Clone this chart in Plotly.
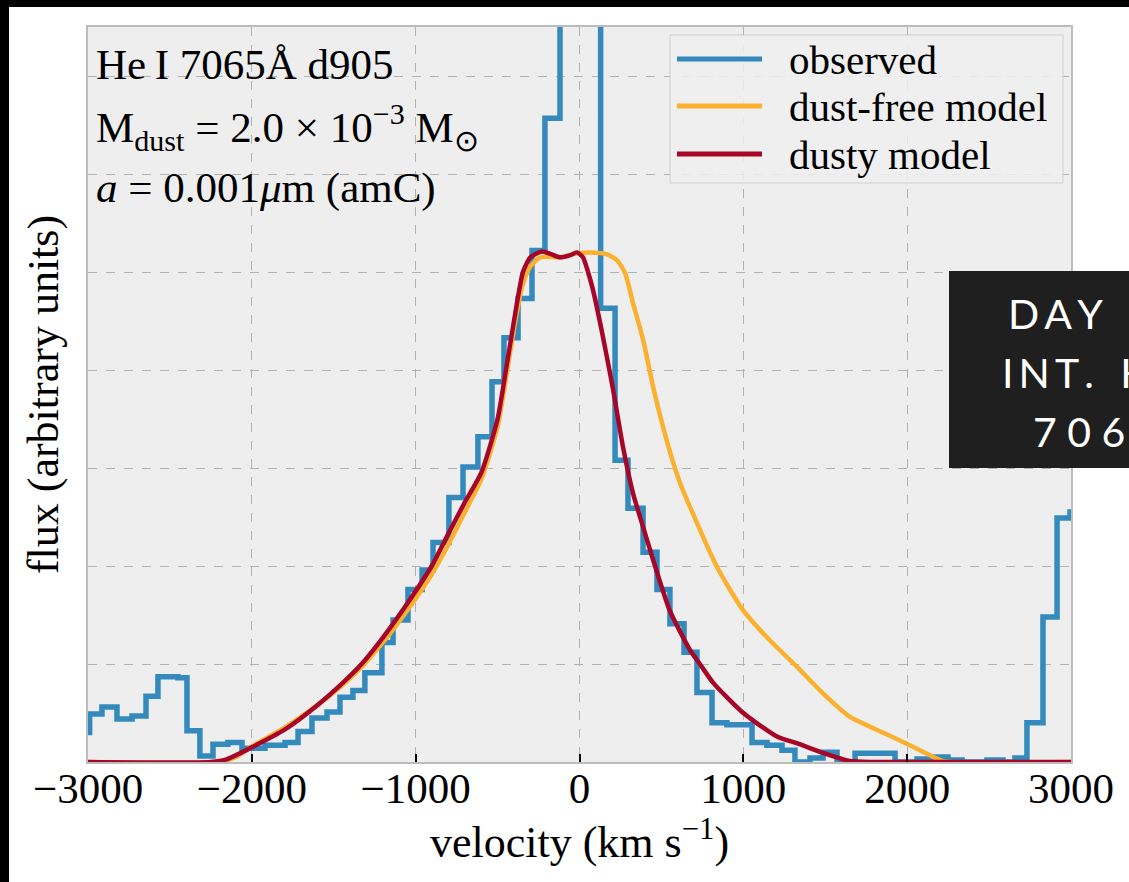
import plotly.graph_objects as go

# ---------------- data ----------------
obs_v = [-3000, -2990, -2915, -2823, -2731, -2646, -2573, -2451, -2396, -2317, -2237, -2146,
         -2060, -1999, -1920, -1797, -1718, -1633, -1541, -1462, -1383, -1310, -1206, -1138,
         -1047, -961, -894, -797, -711, -620, -534, -461, -375, -290, -211, -119,
         129, 217, 296, 388, 473, 552, 638, 717, 809, 900, 1053, 1144, 1236, 1315, 1407,
         1486, 1572, 1682, 1926, 2060, 2158, 2249, 2335, 2487, 2585, 2658, 2731, 2829,
         2915, 2994, 3000]
obs_f = [0.30, 0.49, 0.56, 0.44, 0.47, 0.67, 0.87, 0.86, 0.32, 0.06, 0.18, 0.20,
         0.14, 0.14, 0.17, 0.20, 0.31, 0.45, 0.51, 0.66, 0.73, 0.91, 1.22, 1.45,
         1.76, 1.96, 2.24, 2.70, 3.01, 3.32, 3.88, 4.33, 4.73, 5.22, 6.57, 9.00,
         4.63, 3.08, 2.59, 2.14, 1.76, 1.41, 1.12, 0.71, 0.40, 0.38, 0.20, 0.17, 0.12, 0.00, 0.04,
         0.10, 0.00, 0.09, 0.00, 0.03, 0.05, 0.02, 0.00, 0.02, 0.00, 0.04, 0.40, 1.48,
         2.49, 2.55, 2.55]

free_v = [-3000, -2200, -2100, -2000, -1800, -1600, -1450, -1330, -1200, -1050, -900, -800,
          -700, -600, -500, -450, -400, -350, -302, -241, -119, -15, 64, 168, 229, 278,
          327, 388, 449, 510, 571, 613, 675, 839, 998, 1163, 1328, 1486, 1651, 1800,
          1956, 2078, 2200, 2260, 3000]
free_f = [0.00, 0.00, 0.05, 0.16, 0.35, 0.58, 0.78, 0.97, 1.22, 1.55, 1.92, 2.22,
          2.55, 2.88, 3.42, 3.90, 4.42, 4.85, 5.05, 5.15, 5.15, 5.19, 5.20, 5.18, 5.12, 4.99,
          4.68, 4.31, 3.83, 3.42, 3.06, 2.85, 2.60, 1.99, 1.55, 1.24, 0.97, 0.70, 0.46, 0.34,
          0.22, 0.12, 0.02, 0.00, 0.00]

dusty_v = [-3000, -2250, -2150, -2000, -1800, -1600, -1450, -1330, -1200, -1050, -902, -800,
           -700, -600, -500, -449, -400, -345, -300, -229, -170, -119, -60, -15, 21, 52,
           82, 143, 205, 266, 327, 388, 461, 550, 675, 735, 815, 1000, 1205, 1330, 1490,
           1650, 1800, 3000]
dusty_f = [0.00, 0.00, 0.03, 0.15, 0.33, 0.58, 0.80, 1.00, 1.27, 1.62, 2.00, 2.33,
           2.65, 2.95, 3.50, 4.00, 4.50, 5.00, 5.15, 5.21, 5.18, 5.15, 5.17, 5.20, 5.15, 5.00,
           4.82, 4.34, 3.80, 3.21, 2.74, 2.40, 2.00, 1.55, 1.14, 1.00, 0.81, 0.50, 0.26, 0.19, 0.09,
           0.01, 0.00, 0.00]

x_ticks = [-3000, -2000, -1000, 0, 1000, 2000, 3000]
x_ticktext = ["\u22123000", "\u22122000", "\u22121000", "0", "1000", "2000", "3000"]
y_grid = [1, 2, 3, 4, 5, 6, 7]

legend_names = ["observed", "dust-free model", "dusty model"]
colors = ["#348ABD", "#FBB12F", "#A60628"]

info_lines = [
    "He\u2009I 7065\u00c5 d905",
    "M<sub>dust</sub> = 2.0 \u00d7 10<sup>\u22123</sup> M<sub>\u2299</sub>",
    "<i>a</i> = 0.001<i>\u03bc</i>m (amC)",
]
overlay_lines = ["D\u2009A\u2009Y", "I\u2009N\u2009T\u2009.\u00a0\u00a0\u2009H", "7 0 6 5"]

SERIF = "Liberation Serif, Times New Roman, serif"

# ---------------- figure ----------------
fig = go.Figure()
fig.add_trace(go.Scatter(x=obs_v, y=obs_f, mode="lines", name=legend_names[0],
                         line=dict(color=colors[0], width=5.5, shape="hv"), showlegend=False))
fig.add_trace(go.Scatter(x=free_v, y=free_f, mode="lines", name=legend_names[1],
                         line=dict(color=colors[1], width=4.5, shape="spline", smoothing=0.6),
                         showlegend=False))
fig.add_trace(go.Scatter(x=dusty_v, y=dusty_f, mode="lines", name=legend_names[2],
                         line=dict(color=colors[2], width=4.5, shape="spline", smoothing=0.6),
                         showlegend=False))

W, H = 1129, 882
L, R, T, B = 88, 58, 27, 120
pw, ph = W - L - R, H - T - B


def px(xp):
    return (xp - L) / pw


def py(yp):
    return (H - B - yp) / ph


shapes = []
annotations = []

# legend box (manual, matplotlib-like)
shapes.append(dict(type="rect", xref="paper", yref="paper", x0=px(670), x1=px(1063),
                   y0=py(183), y1=py(35), fillcolor="rgba(238,238,238,0.85)",
                   line=dict(color="#cfcfcf", width=1), layer="above"))
rows = [59, 106, 154]
for name, c, r in zip(legend_names, colors, rows):
    shapes.append(dict(type="line", xref="paper", yref="paper", x0=px(677), x1=px(762),
                       y0=py(r), y1=py(r), line=dict(color=c, width=5), layer="above"))
    annotations.append(dict(xref="paper", yref="paper", x=px(787), y=py(r + 1), text=name,
                            showarrow=False, xanchor="left", yanchor="middle",
                            font=dict(family=SERIF, size=41, color="black")))

# info text
for t, yc in zip(info_lines, [64, 127, 188]):
    annotations.append(dict(xref="paper", yref="paper", x=px(94), y=py(yc), text=t,
                            showarrow=False, xanchor="left", yanchor="middle",
                            font=dict(family=SERIF, size=43, color="black")))

# page frame strips (black) at top and left
shapes.append(dict(type="rect", xref="paper", yref="paper", x0=px(-20), x1=px(W + 20),
                   y0=py(7), y1=py(-20), fillcolor="black", line=dict(width=0), layer="above"))
shapes.append(dict(type="rect", xref="paper", yref="paper", x0=px(-20), x1=px(9),
                   y0=py(H + 20), y1=py(-20), fillcolor="black", line=dict(width=0), layer="above"))

# dark caption overlay on the right (cut by the page edge, as in the reference)
shapes.append(dict(type="rect", xref="paper", yref="paper", x0=px(949), x1=px(W + 40),
                   y0=py(468), y1=py(271), fillcolor="#1f1f1f", line=dict(width=0), layer="above"))
for t, xl, yc in zip(overlay_lines, [1006, 1000, 1031], [313, 373, 431]):
    annotations.append(dict(xref="paper", yref="paper", x=px(xl), y=py(yc), text=t,
                            showarrow=False, xanchor="left", yanchor="middle",
                            font=dict(family="Lato, Noto Sans, sans-serif", size=41, color="white")))

fig.update_layout(
    width=W, height=H,
    margin=dict(l=L, r=R, t=T, b=B, autoexpand=False),
    paper_bgcolor="white", plot_bgcolor="#EEEEEE",
    shapes=shapes, annotations=annotations,
    showlegend=False,
    xaxis=dict(range=[-3000, 3000], tickvals=x_ticks, ticktext=x_ticktext,
               ticks="inside", ticklen=8, tickwidth=2, tickcolor="black",
               showgrid=True, gridcolor="#b2b2b2", griddash="dash", gridwidth=1,
               showline=True, linecolor="#bcbcbc", linewidth=2, mirror=True, zeroline=False,
               tickfont=dict(family=SERIF, size=43, color="black"), ticklabelstandoff=-13,
               title=dict(text="velocity (km s<sup>\u22121</sup>)", standoff=16,
                          font=dict(family=SERIF, size=44, color="black"))),
    yaxis=dict(range=[0, 7.5], tickvals=y_grid, showticklabels=False, ticks="",
               showgrid=True, gridcolor="#b2b2b2", griddash="dash", gridwidth=1,
               showline=True, linecolor="#bcbcbc", linewidth=2, mirror=True, zeroline=False,
               title=dict(text="flux (arbitrary units)", standoff=14,
                          font=dict(family=SERIF, size=44, color="black"))),
)

fig.write_html("out.html")
